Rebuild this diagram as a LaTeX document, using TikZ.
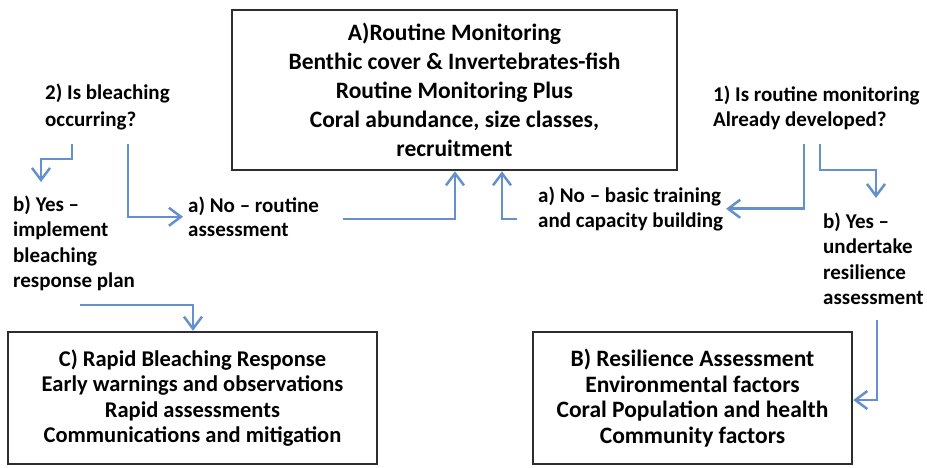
\documentclass[tikz,border=0pt]{standalone}
\usepackage{fontspec}
\setmainfont{Carlito}
\usetikzlibrary{arrows.meta}
\definecolor{arrblue}{RGB}{100,145,205}
\definecolor{boxline}{RGB}{45,45,45}
\begin{document}
\begin{tikzpicture}[x=1pt,y=-1pt,
  lbl/.style={anchor=base west, inner sep=0pt, align=left, font=\fontsize{21}{25.5}\selectfont\bfseries},
  box/.style={draw=boxline, line width=2.5pt, inner sep=0pt, align=center, font=\fontsize{23}{25.5}\selectfont\bfseries},
  arr/.style={draw=arrblue, line width=2.5pt, -{Straight Barb[length=12pt,width=18pt]}}]
\useasboundingbox (0,0) rectangle (927,467);
% boxes
\node[box, minimum width=445pt, minimum height=160pt, font=\fontsize{23.5}{29}\selectfont\bfseries] (boxA) at (454.5,90)
  {A)Routine Monitoring\\Benthic cover \& Invertebrates-fish\\Routine Monitoring Plus\\Coral abundance, size classes,\\recruitment};
\node[box, minimum width=369pt, minimum height=132pt, font=\fontsize{22.5}{25.5}\selectfont\bfseries] (boxC) at (192.5,398)
  {C) Rapid Bleaching Response\\Early warnings and observations\\Rapid assessments\\Communications and mitigation};
\node[box, minimum width=319pt, minimum height=132pt, font=\fontsize{23.5}{25.5}\selectfont\bfseries] (boxB) at (692.5,398)
  {B) Resilience Assessment\\Environmental factors\\Coral Population and health\\Community factors};
% labels (base = baseline of the last line)
\node[lbl, font=\fontsize{21}{27}\selectfont\bfseries] (q2) at (45,126.5) {2) Is bleaching\\occurring?};
\node[lbl] (yes2) at (13,287.5) {b) Yes –\\implement\\bleaching\\response plan};
\node[lbl, font=\fontsize{21}{24}\selectfont\bfseries] (no2) at (188,236.5) {a) No – routine\\assessment};
\node[lbl] (q1) at (713,126.5) {1) Is routine monitoring\\Already developed?};
\node[lbl] (no1) at (538,227.5) {a) No – basic training\\and capacity building};
\node[lbl] (yes1) at (823,304.5) {b) Yes –\\undertake\\resilience\\assessment};
% connector points
\coordinate (s1) at (72,144);
\coordinate (c1) at (41,159);
\coordinate (t1) at (41,182);
\coordinate (s2) at (128,144);
\coordinate (s3) at (343,219);
\coordinate (c3) at (455,219);
\coordinate (s4) at (517,219);
\coordinate (c4) at (502,219);
\coordinate (s5) at (804,144);
\coordinate (s6) at (820,144);
\coordinate (c6) at (876,170);
\coordinate (t6) at (876,198);
\coordinate (s7) at (80,305);
\coordinate (c7) at (193,305);
\coordinate (s8) at (877,320);
\coordinate (c8) at (877,400);
% connectors
\draw[arr] (s1) |- (c1) -- (t1);
\draw[arr] (s2) |- ([xshift=-5pt]no2.west);
\draw[arr] (s3) -- (c3) -- (c3 |- boxA.south);
\draw[arr] (s4) -- (c4) -- (c4 |- boxA.south);
\draw[arr] (s5) |- ([xshift=3pt]no1.east);
\draw[arr] (s6) |- (c6) -- (t6);
\draw[arr] (s7) -- (c7) -- (c7 |- boxC.north);
\draw[arr] (s8) -- (c8) -- (c8 -| boxB.east);
\end{tikzpicture}
\end{document}
